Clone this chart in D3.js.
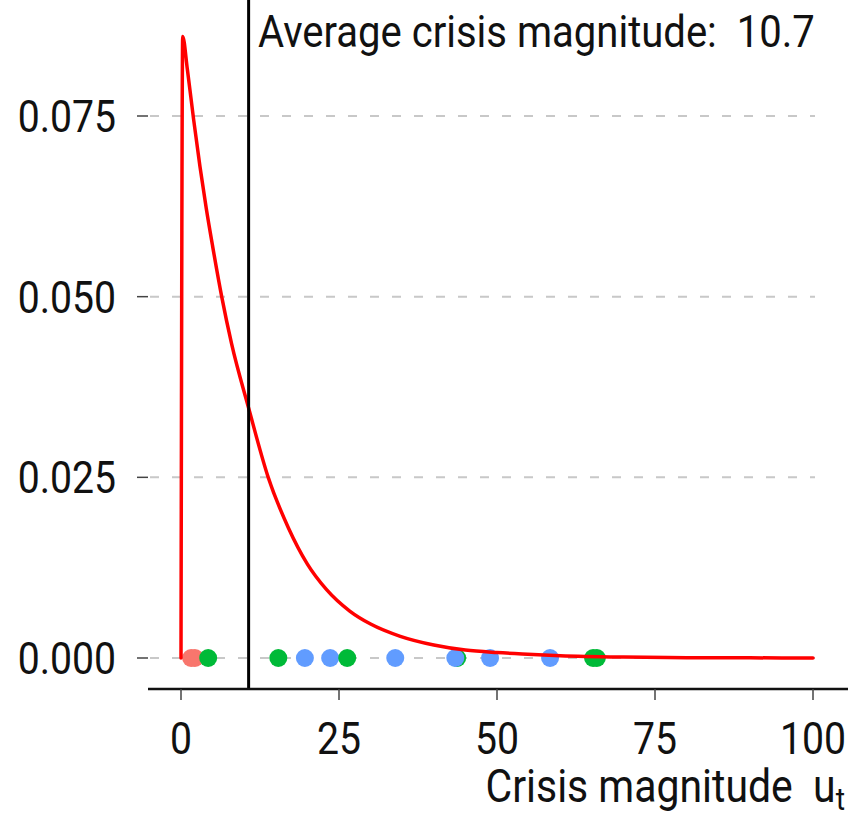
<!DOCTYPE html>
<html>
<head>
<meta charset="utf-8">
<script src="https://cdn.jsdelivr.net/npm/d3@7"></script>
<style>
  html, body { margin: 0; padding: 0; background: #fff; }
  svg { display: block; }
  text { font-family: "Roboto", "DejaVu Sans", sans-serif; white-space: pre; }
</style>
</head>
<body>
<svg id="chart" width="852" height="817"></svg>
<script>
// Density curve of crisis magnitude (x) and its density (y)
const curveX = [0, 0.27, 1, 2, 3, 4, 5, 6.44, 8, 10.7, 13.8, 17, 20, 23, 26.7, 30, 34.7, 40, 45, 50, 54, 60, 70, 80, 90, 100];
const curveY = [0, 0.0860, 0.0815, 0.0745, 0.0680, 0.0622, 0.0570, 0.0500, 0.0435, 0.0346, 0.0250, 0.0180, 0.0130, 0.0095, 0.0065, 0.0047, 0.0030, 0.0018, 0.0011, 0.00075, 0.00055, 0.00032, 0.00013, 0.00005, 0.00002, 0.00001];

// Observed crises, drawn in this order along the baseline
const crisisValue = [1.6, 2.2, 4.3, 15.4, 19.6, 23.6, 26.3, 33.9, 43.7, 43.4, 48.9, 58.4, 65.2, 65.8];
const crisisGroup = ["a", "a", "b", "b", "c", "c", "b", "c", "b", "c", "c", "c", "b", "b"];
const groups = ["a", "b", "c"];
const groupColors = ["#F8766D", "#00BA38", "#619CFF"];

const meanMagnitude = 10.7;
const xTicks = [0, 25, 50, 75, 100];
const yTicks = [0, 0.025, 0.05, 0.075];
const titleText = "Average crisis magnitude:  " + meanMagnitude;
const xAxisTitle = "Crisis magnitude  ";

const svg = d3.select("#chart");
const textSqueeze = 0.89;

const x = d3.scaleLinear().domain([0, 100]).range([181, 813]);
const y = d3.scaleLinear().domain([0, 0.075]).range([658, 116]);
const color = d3.scaleOrdinal().domain(groups).range(groupColors);

const axisY = 689;

// horizontal grid lines
svg.append("g").selectAll("line").data(yTicks).join("line")
  .attr("x1", 150).attr("x2", 815)
  .attr("y1", d => y(d)).attr("y2", d => y(d))
  .attr("stroke", "#c8c8c8").attr("stroke-width", 2)
  .attr("stroke-dasharray", "9,13");

// y ticks
svg.append("g").selectAll("line").data(yTicks).join("line")
  .attr("x1", 137).attr("x2", 148)
  .attr("y1", d => y(d)).attr("y2", d => y(d))
  .attr("stroke", "#444").attr("stroke-width", 1.5);

// y tick labels
svg.append("g").selectAll("text").data(yTicks).join("text")
  .attr("transform", d => `translate(116,${y(d)}) scale(${textSqueeze},1)`)
  .attr("dy", "0.36em")
  .attr("text-anchor", "end")
  .attr("font-size", 44)
  .attr("fill", "#111")
  .text(d => d3.format(".3f")(d));

// points on the baseline
svg.append("g").selectAll("circle").data(crisisValue.map((v, i) => ({v, g: crisisGroup[i]}))).join("circle")
  .attr("cx", d => x(d.v)).attr("cy", y(0))
  .attr("r", 9)
  .attr("fill", d => color(d.g));

// density curve
const line = d3.line().x((d, i) => x(curveX[i])).y(d => y(d)).curve(d3.curveMonotoneX);
svg.append("path")
  .datum(curveY)
  .attr("d", line)
  .attr("fill", "none")
  .attr("stroke", "#FF0000")
  .attr("stroke-width", 3.5)
  .attr("stroke-linejoin", "round")
  .attr("stroke-linecap", "round");

// mean line
svg.append("line")
  .attr("x1", x(meanMagnitude)).attr("x2", x(meanMagnitude))
  .attr("y1", 0).attr("y2", axisY)
  .attr("stroke", "#000").attr("stroke-width", 3);

// x axis
svg.append("line")
  .attr("x1", 148).attr("x2", 848)
  .attr("y1", axisY).attr("y2", axisY)
  .attr("stroke", "#111").attr("stroke-width", 2.5);

svg.append("g").selectAll("line").data(xTicks).join("line")
  .attr("x1", d => x(d)).attr("x2", d => x(d))
  .attr("y1", axisY).attr("y2", axisY + 11)
  .attr("stroke", "#444").attr("stroke-width", 1.5);

svg.append("g").selectAll("text").data(xTicks).join("text")
  .attr("transform", d => `translate(${x(d)},754) scale(${textSqueeze},1)`)
  .attr("text-anchor", "middle")
  .attr("font-size", 44)
  .attr("fill", "#111")
  .text(d => d);

// x axis title with subscript
const xt = svg.append("text")
  .attr("transform", `translate(845,802) scale(${textSqueeze},1)`)
  .attr("text-anchor", "end")
  .attr("font-size", 46)
  .attr("fill", "#111");
xt.append("tspan").text(xAxisTitle + "u");
xt.append("tspan").attr("font-size", 32).attr("dy", 8).text("t");

// mean annotation
svg.append("text")
  .attr("transform", `translate(258,47) scale(${textSqueeze},1)`)
  .attr("font-size", 45)
  .attr("fill", "#111")
  .text(titleText);
</script>
</body>
</html>
